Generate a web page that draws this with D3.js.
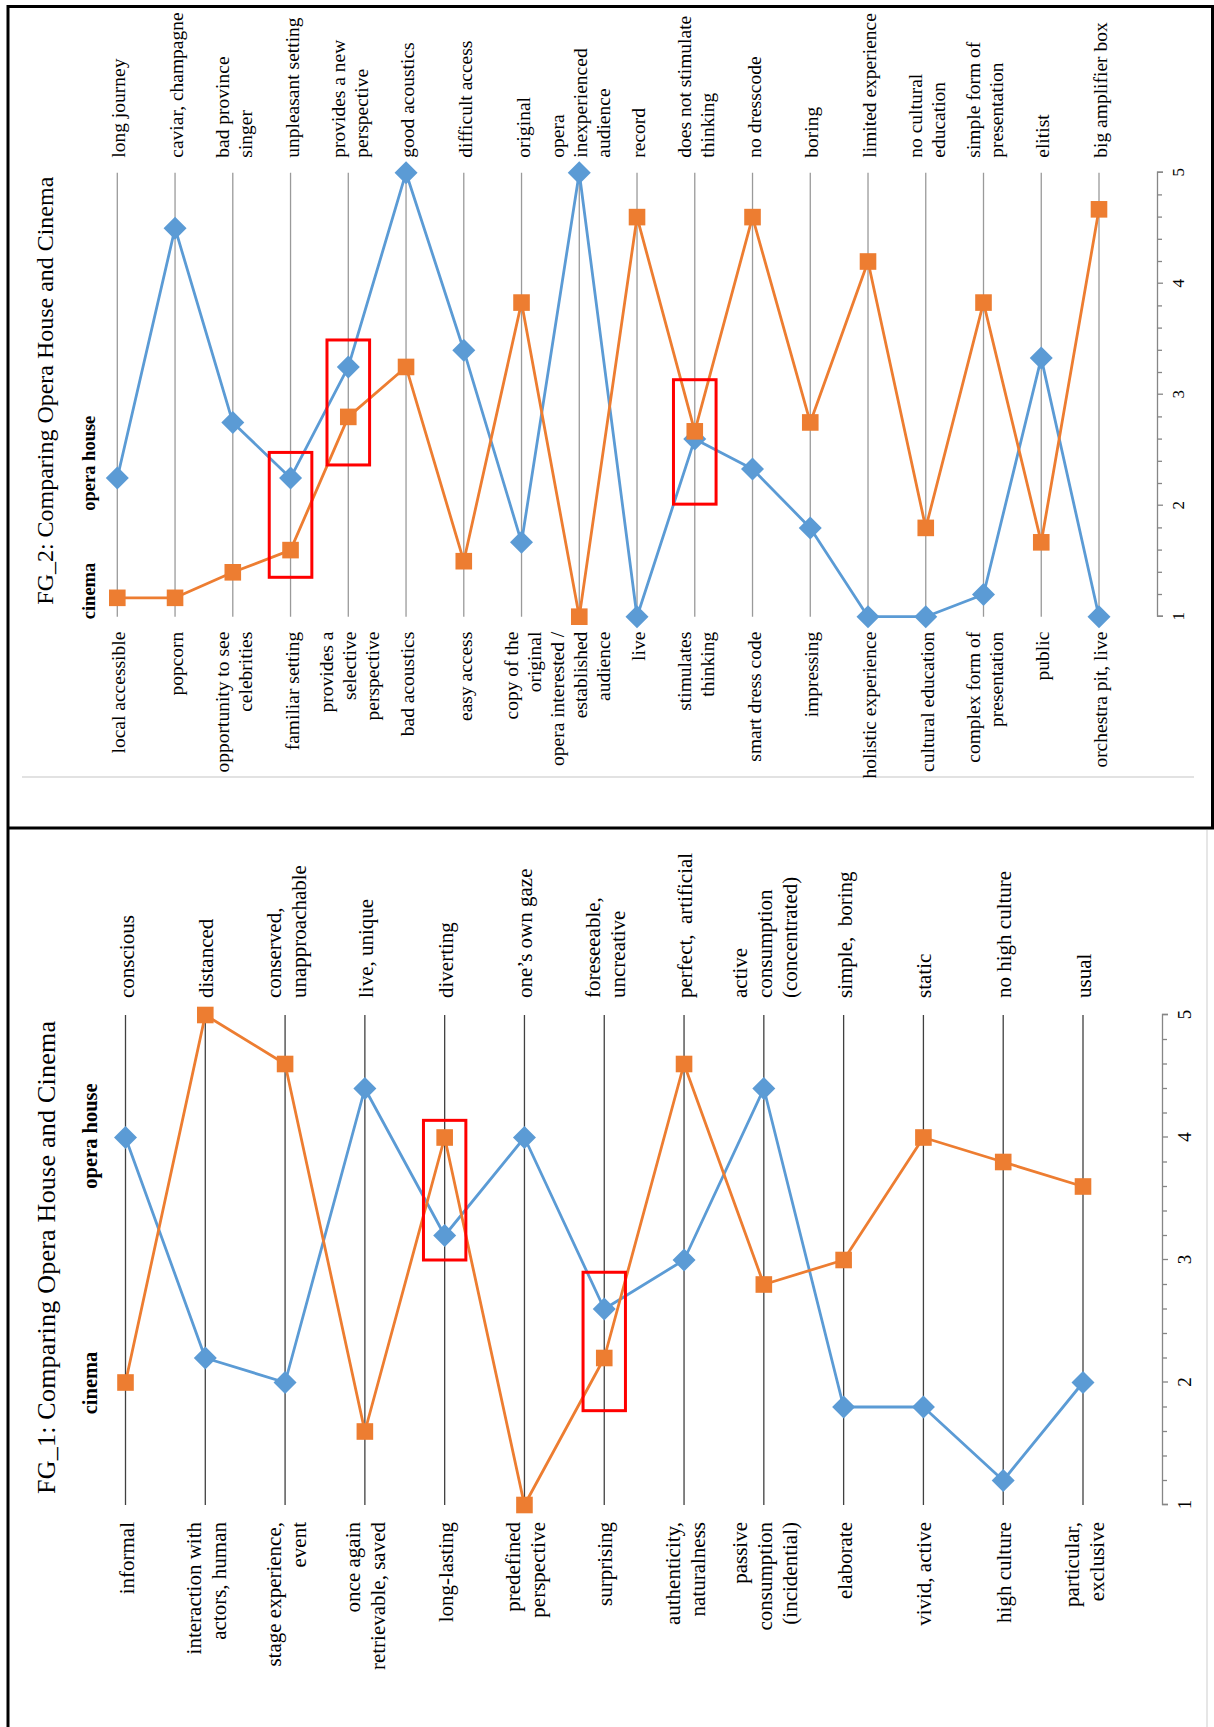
<!DOCTYPE html>
<html>
<head>
<meta charset="utf-8">
<script src="https://cdn.jsdelivr.net/npm/d3@7"></script>
<style>
  body { margin: 0; background: #fff; }
  svg { display: block; }
  text { font-family: "Liberation Serif", "Times New Roman", serif; fill: #000; }
</style>
</head>
<body>
<svg id="chart" width="1214" height="1727"></svg>
<script>
// ---- data ----
const valueTicks = [1, 2, 3, 4, 5];
const seriesNames = ["opera house", "cinema"];

// FG_1
const fg1LeftLabels = [
  ["informal"], ["interaction with", "actors, human"], ["stage experience,", "event"],
  ["once again", "retrievable, saved"], ["long-lasting"], ["predefined", "perspective"],
  ["surprising"], ["authenticity,", "naturalness"], ["passive", "consumption", "(incidential)"],
  ["elaborate"], ["vivid, active"], ["high culture"], ["particular,", "exclusive"]
];
const fg1RightLabels = [
  ["conscious"], ["distanced"], ["conserved,", "unapproachable"], ["live, unique"],
  ["diverting"], ["one\u2019s own gaze"], ["foreseeable,", "uncreative"], ["perfect,  artificial"],
  ["active", "consumption", "(concentrated)"], ["simple,  boring"], ["static"],
  ["no high culture"], ["usual"]
];
const fg1Opera = [4.0, 2.2, 2.0, 4.4, 3.2, 4.0, 2.6, 3.0, 4.4, 1.8, 1.8, 1.2, 2.0];
const fg1Cinema = [2.0, 5.0, 4.6, 1.6, 4.0, 1.0, 2.2, 4.6, 2.8, 3.0, 4.0, 3.8, 3.6];
const fg1Highlights = [[4, 3.0, 4.14], [6, 1.77, 2.9]];

// FG_2
const fg2LeftLabels = [
  ["local accessible"], ["popcorn"], ["opportunity to see", "celebrities"], ["familiar setting"],
  ["provides a", "selective", "perspective"], ["bad acoustics"], ["easy access"],
  ["copy of the", "original"], ["opera interested /", "established", "audience"], ["live"],
  ["stimulates", "thinking"], ["smart dress code"], ["impressing"], ["holistic experience"],
  ["cultural education"], ["complex form of", "presentation"], ["public"], ["orchestra pit, live"]
];
const fg2RightLabels = [
  ["long journey"], ["caviar, champagne"], ["bad province", "singer"], ["unpleasant setting"],
  ["provides a new", "perspective"], ["good acoustics"], ["difficult access"], ["original"],
  ["opera", "inexperienced", "audience"], ["record"], ["does not stimulate", "thinking"],
  ["no dresscode"], ["boring"], ["limited experience"], ["no cultural", "education"],
  ["simple form of", "presentation"], ["elitist"], ["big amplifier box"]
];
const fg2Opera = [2.25, 4.5, 2.75, 2.25, 3.25, 5.0, 3.4, 1.67, 5.0, 1.0, 2.6, 2.33, 1.8, 1.0, 1.0, 1.2, 3.33, 1.0];
const fg2Cinema = [1.17, 1.17, 1.4, 1.6, 2.8, 3.25, 1.5, 3.83, 1.0, 4.6, 2.67, 4.6, 2.75, 4.2, 1.8, 3.83, 1.67, 4.67];
const fg2Highlights = [[3, 1.355, 2.48], [4, 2.367, 3.493], [10, 2.014, 3.135]];

const COLORS = { opera: "#5b9bd5", cinema: "#ed7d31" };

const svg = d3.select("#chart");

// frame
svg.append("g")
  .call((g) => g.append("line").attr("x1", 22).attr("x2", 1194).attr("y1", 777).attr("y2", 777)
    .attr("stroke", "#d9d9d9").attr("stroke-width", 1.3))
  .call((g) => g.append("line").attr("x1", 1207).attr("x2", 1207).attr("y1", 830).attr("y2", 1727)
    .attr("stroke", "#d9d9d9").attr("stroke-width", 1.3))
  .call((g) => g.append("path")
    .attr("d", "M8,1727V6.5H1212.5V828M8,828H1214")
    .attr("fill", "none").attr("stroke", "#000").attr("stroke-width", 3));

function drawPanel(cfg) {
  // local coords: x = value axis, y = category axis; group rotated -90deg
  const g = svg.append("g").attr("transform", `translate(0,${cfg.oy}) rotate(-90)`);
  const x = d3.scaleLinear().domain([1, 5]).range([0, cfg.width]);
  const y = d3.scalePoint().domain(d3.range(cfg.left.length)).range(cfg.catRange);

  // category grid lines
  g.append("g").selectAll("line").data(y.domain()).join("line")
    .attr("x1", x(1)).attr("x2", x(5))
    .attr("y1", (d) => y(d)).attr("y2", (d) => y(d))
    .attr("stroke", cfg.gridColor).attr("stroke-width", 1.3);

  // value axis
  const axis = g.append("g")
    .attr("transform", `translate(0,${cfg.axisPos})`)
    .call(d3.axisBottom(x).tickValues(valueTicks).tickFormat(d3.format("d"))
      .tickSize(6).tickPadding(cfg.tickPad));
  axis.select(".domain").attr("stroke", "#868686").attr("stroke-width", 1.3);
  axis.selectAll(".tick line").attr("stroke", "#868686").attr("stroke-width", 1.3);
  axis.selectAll(".tick text")
    .attr("font-family", "Liberation Serif, Times New Roman, serif")
    .attr("font-size", cfg.tickFont).attr("fill", "#000");
  axis.append("g").selectAll("line")
    .data(d3.range(1, 5, 0.2).filter((v) => Math.abs(v - Math.round(v)) > 0.01))
    .join("line")
    .attr("x1", (d) => x(d)).attr("x2", (d) => x(d))
    .attr("y1", 0).attr("y2", 5)
    .attr("stroke", "#868686").attr("stroke-width", 1.3);

  // category labels
  const addLabels = (labels, anchor, lx) => {
    g.append("g").selectAll("text").data(labels).join("text")
      .attr("text-anchor", anchor)
      .attr("dominant-baseline", "central")
      .attr("font-size", cfg.labelFont)
      .style("white-space", "pre")
      .each(function (lines, i) {
        d3.select(this).selectAll("tspan").data(lines).join("tspan")
          .attr("x", lx)
          .attr("y", (s, j) => y(i) + (j - (lines.length - 1) / 2) * cfg.lineH + 1)
          .text((s) => s);
      });
  };
  addLabels(cfg.left, "end", x(1) - cfg.gap);
  addLabels(cfg.right, "start", x(5) + cfg.gap);

  // title
  g.append("text")
    .attr("x", cfg.titleX).attr("y", cfg.titleY)
    .attr("text-anchor", "middle").attr("dominant-baseline", "central")
    .attr("font-size", cfg.titleFont)
    .attr("textLength", cfg.titleLen).attr("lengthAdjust", "spacing")
    .text(cfg.title);

  // series name labels
  g.append("g").selectAll("text").data(cfg.legend).join("text")
    .attr("x", (d) => d.x).attr("y", cfg.legendY)
    .attr("text-anchor", "middle").attr("dominant-baseline", "central")
    .attr("font-size", cfg.legendFont).attr("font-weight", "bold")
    .text((d) => d.name);

  // series
  const line = d3.line().x((d) => x(d)).y((d, i) => y(i));
  const drawSeries = (values, color, shape) => {
    const s = g.append("g");
    s.append("path").attr("d", line(values))
      .attr("fill", "none").attr("stroke", color).attr("stroke-width", 2.8)
      .attr("stroke-linejoin", "round");
    if (shape === "diamond") {
      const r = 11.5;
      s.selectAll("path.mk").data(values).join("path").attr("class", "mk")
        .attr("d", (d, i) => {
          const cx = x(d), cy = y(i);
          return `M${cx},${cy - r}L${cx + r},${cy}L${cx},${cy + r}L${cx - r},${cy}Z`;
        })
        .attr("fill", color);
    } else {
      const h = 8.3;
      s.selectAll("rect").data(values).join("rect")
        .attr("x", (d) => x(d) - h).attr("y", (d, i) => y(i) - h)
        .attr("width", h * 2).attr("height", h * 2)
        .attr("fill", color);
    }
  };
  drawSeries(cfg.opera, COLORS.opera, "diamond");
  drawSeries(cfg.cinema, COLORS.cinema, "square");

  // red highlight boxes
  g.append("g").selectAll("rect").data(cfg.highlights).join("rect")
    .attr("x", (d) => x(d[1])).attr("width", (d) => x(d[2]) - x(d[1]))
    .attr("y", (d) => y(d[0]) - cfg.boxHalf).attr("height", cfg.boxHalf * 2)
    .attr("fill", "none").attr("stroke", "#ff0000").attr("stroke-width", 3);
}

drawPanel({
  title: "FG_2: Comparing Opera House and Cinema",
  left: fg2LeftLabels, right: fg2RightLabels,
  opera: fg2Opera, cinema: fg2Cinema, highlights: fg2Highlights,
  oy: 616.7, width: 444, catRange: [117.3, 1099], axisPos: 1157,
  gridColor: "#9a9a9a", tickFont: 17, tickPad: 9,
  labelFont: 19.5, lineH: 23, gap: 15,
  titleX: 226, titleY: 44.5, titleFont: 24, titleLen: 428,
  legendY: 88.5, legendFont: 18.5,
  legend: [{ name: seriesNames[1], x: 25.7 }, { name: seriesNames[0], x: 153.5 }],
  boxHalf: 21.3
});

drawPanel({
  title: "FG_1: Comparing Opera House and Cinema",
  left: fg1LeftLabels, right: fg1RightLabels,
  opera: fg1Opera, cinema: fg1Cinema, highlights: fg1Highlights,
  oy: 1505, width: 490, catRange: [125.5, 1083], axisPos: 1162,
  gridColor: "#404040", tickFont: 19, tickPad: 10,
  labelFont: 21, lineH: 25, gap: 17,
  titleX: 247.5, titleY: 46, titleFont: 26, titleLen: 473,
  legendY: 89.5, legendFont: 20.5,
  legend: [{ name: seriesNames[1], x: 122 }, { name: seriesNames[0], x: 369 }],
  boxHalf: 21.2
});
</script>
</body>
</html>
